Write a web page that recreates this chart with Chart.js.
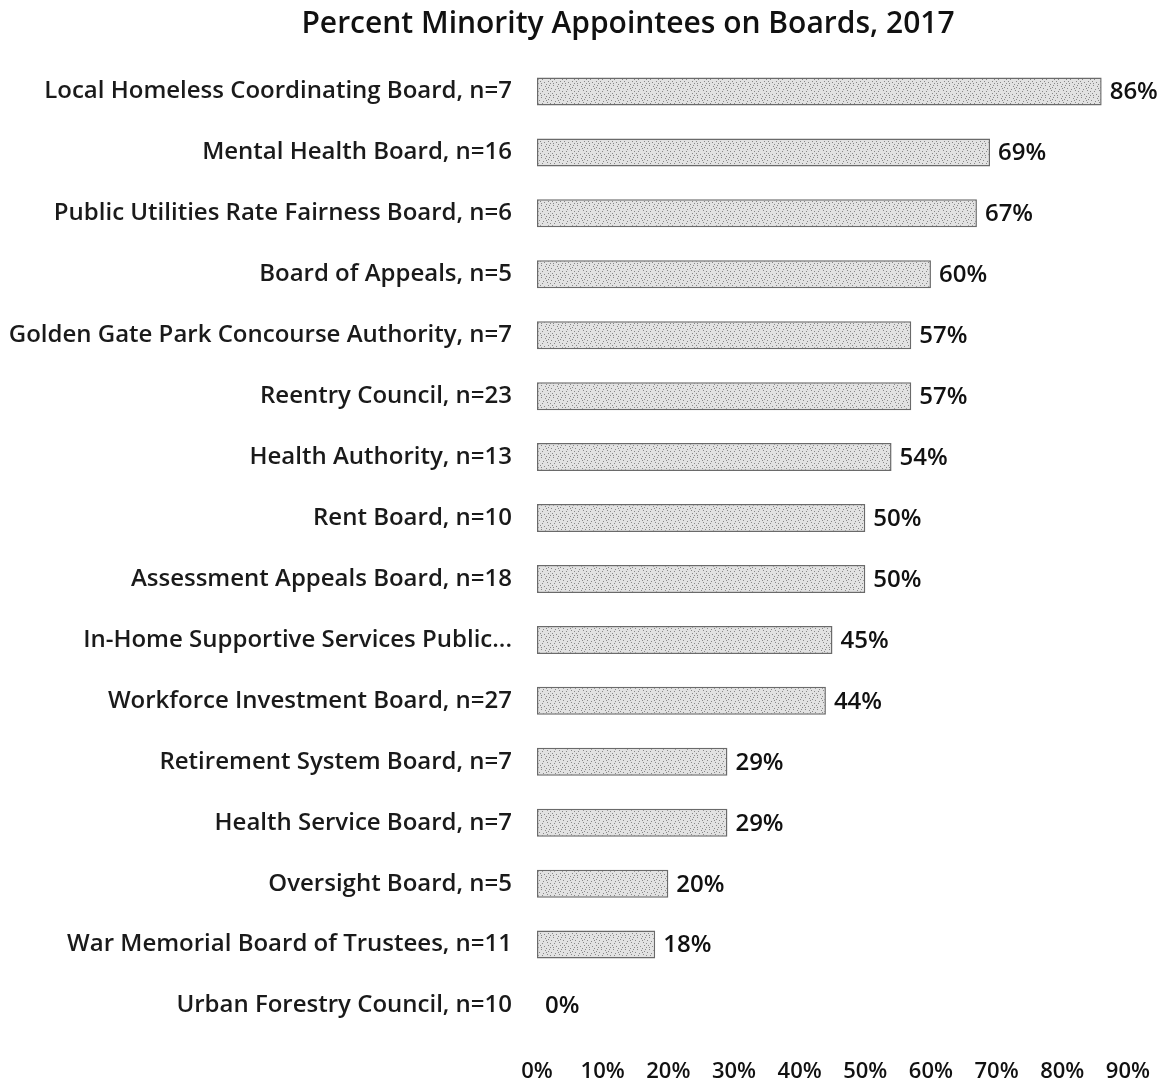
<!DOCTYPE html>
<html>
<head>
<meta charset="utf-8">
<script src="https://cdn.jsdelivr.net/npm/chart.js@4/dist/chart.umd.min.js"></script>
<style>
  html, body { margin: 0; padding: 0; background: #fff; }
  #wrap { width: 1165px; height: 1082px; }
</style>
</head>
<body>
<div id="wrap"><canvas id="chart"></canvas></div>
<script>
const chartTitle = "Percent Minority Appointees on Boards, 2017";
const boards = [
  "Local Homeless Coordinating Board, n=7",
  "Mental Health Board, n=16",
  "Public Utilities Rate Fairness Board, n=6",
  "Board of Appeals, n=5",
  "Golden Gate Park Concourse Authority, n=7",
  "Reentry Council, n=23",
  "Health Authority, n=13",
  "Rent Board, n=10",
  "Assessment Appeals Board, n=18",
  "In-Home Supportive Services Public...",
  "Workforce Investment Board, n=27",
  "Retirement System Board, n=7",
  "Health Service Board, n=7",
  "Oversight Board, n=5",
  "War Memorial Board of Trustees, n=11",
  "Urban Forestry Council, n=10"
];
const pctMinority = [86, 69, 67, 60, 57, 57, 54, 50, 50, 45, 44, 29, 29, 20, 18, 0];
const xTicks = [0, 10, 20, 30, 40, 50, 60, 70, 80, 90];

// speckled grey fill, like the scanned print
function makePattern() {
  const c = document.createElement("canvas");
  c.width = 12; c.height = 12;
  const g = c.getContext("2d");
  g.fillStyle = "#e2e2e2";
  g.fillRect(0, 0, 12, 12);
  g.fillStyle = "#888";
  const dots = [[1,1],[5,2],[9,1],[3,5],[7,6],[11,4],[0,9],[4,10],[8,9],[10,11],[6,0],[2,7],[6,4],[10,7],[1,11],[8,3]];
  dots.forEach(d => g.fillRect(d[0], d[1], 1, 1));
  return g.createPattern(c, "repeat");
}

// title sits a bit right of the page centre in the original
const titlePlugin = {
  id: "titlePlugin",
  afterDraw(chart) {
    const ctx = chart.ctx;
    ctx.save();
    ctx.font = "600 30px 'Open Sans'";
    ctx.fillStyle = "#111";
    ctx.textAlign = "center";
    ctx.textBaseline = "middle";
    ctx.fillText(chartTitle, 628, 24);
    ctx.restore();
  }
};

const valueLabels = {
  id: "valueLabels",
  afterDatasetsDraw(chart) {
    const ctx = chart.ctx;
    const meta = chart.getDatasetMeta(0);
    ctx.save();
    ctx.font = "600 24px 'Open Sans'";
    ctx.fillStyle = "#111";
    ctx.textAlign = "left";
    ctx.textBaseline = "middle";
    meta.data.forEach((bar, i) => {
      ctx.fillText(pctMinority[i] + "%", bar.x + 8, bar.y + 1);
    });
    ctx.restore();
  }
};

new Chart(document.getElementById("chart"), {
  type: "bar",
  data: {
    labels: boards,
    datasets: [{
      data: pctMinority,
      backgroundColor: makePattern(),
      borderColor: "#6a6a6a",
      borderWidth: 1.5,
      borderSkipped: false,
      categoryPercentage: 1,
      barPercentage: 0.46
    }]
  },
  options: {
    indexAxis: "y",
    responsive: true,
    maintainAspectRatio: false,
    animation: false,
    layout: { padding: { left: 0, right: 17, top: 61, bottom: 0 } },
    plugins: {
      legend: { display: false },
      tooltip: { enabled: false },
      title: { display: false }
    },
    scales: {
      x: {
        min: 0,
        max: 90,
        afterBuildTicks(scale) { scale.ticks = xTicks.map(v => ({ value: v })); },
        afterFit(scale) { scale.height = 46; },
        grid: { display: false },
        border: { display: false },
        ticks: {
          callback: v => v + "%",
          color: "#111",
          font: { family: "'Open Sans'", size: 22, weight: "600" },
          padding: 15,
          maxRotation: 0
        }
      },
      y: {
        grid: { display: false },
        border: { display: false },
        afterFit(scale) { scale.width = 537; },
        ticks: {
          color: "#1a1a1a",
          font: { family: "'Open Sans'", size: 24, weight: "600" },
          padding: 17
        }
      }
    }
  },
  plugins: [valueLabels, titlePlugin]
});
</script>
</body>
</html>
